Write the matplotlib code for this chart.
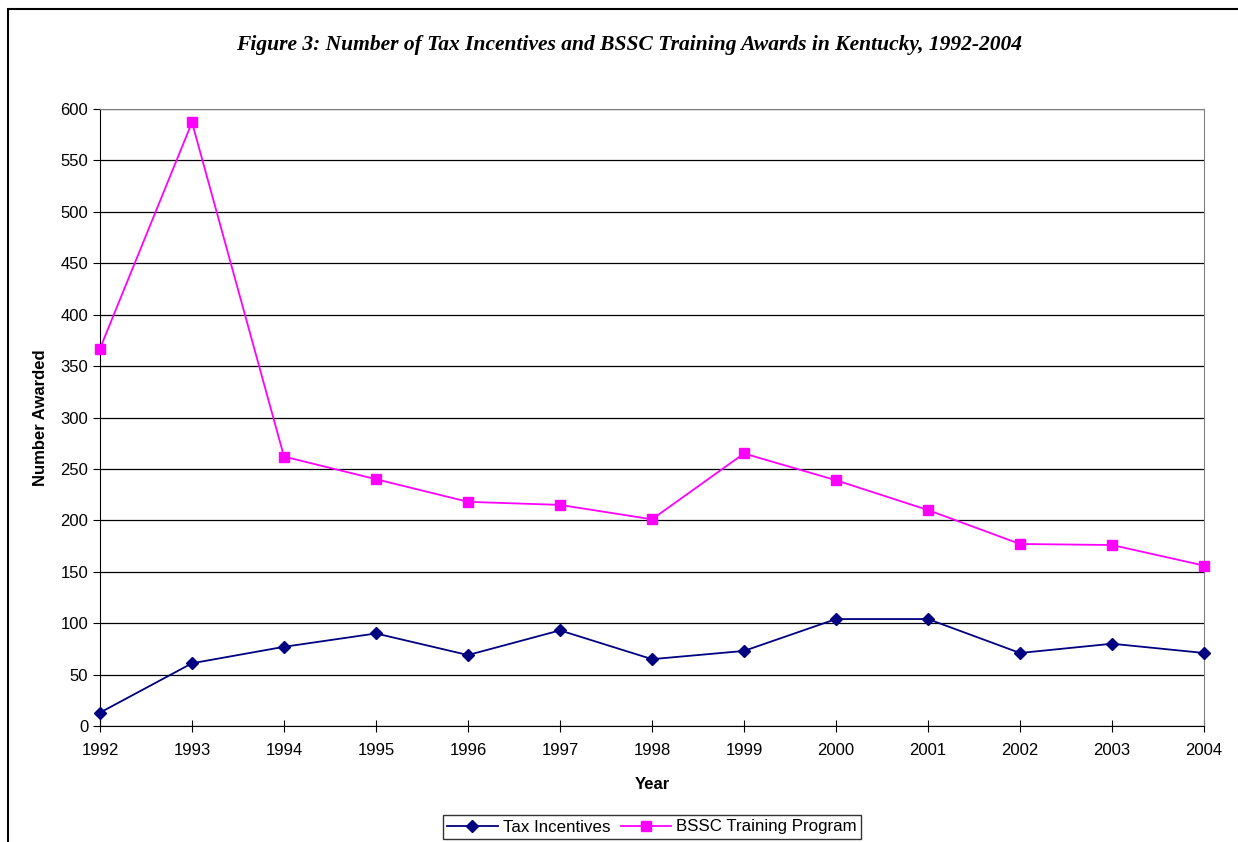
import matplotlib.pyplot as plt
from matplotlib.patches import Rectangle

years = [1992, 1993, 1994, 1995, 1996, 1997, 1998, 1999, 2000, 2001, 2002, 2003, 2004]
tax_incentives = [13, 61, 77, 90, 69, 93, 65, 73, 104, 104, 71, 80, 71]
bssc_training = [367, 587, 262, 240, 218, 215, 201, 265, 239, 210, 177, 176, 156]

plt.rcParams['font.family'] = ['Liberation Sans', 'DejaVu Sans']

fig = plt.figure(figsize=(12.38, 8.42), dpi=100)
ax = fig.add_axes([100/1238, 116/842, 1104/1238, 617/842])

# outer chart frame (cut off at right and bottom)
fig.patches.append(Rectangle((8/1238, -0.1), 1.2, 0.1 + (842-9)/842,
                             transform=fig.transFigure, fill=False,
                             edgecolor='black', linewidth=1.5))

ax.plot(years, tax_incentives, color='#000080', marker='D', markersize=6,
        linewidth=1.3, label='Tax Incentives', clip_on=False, zorder=3)
ax.plot(years, bssc_training, color='#FF00FF', marker='s', markersize=7,
        linewidth=1.3, label='BSSC Training Program', clip_on=False, zorder=3)

ax.set_xlim(1992, 2004)
ax.set_ylim(0, 600)
ax.set_xticks(years)
ax.set_yticks(range(0, 601, 50))
ax.yaxis.grid(True, color='black', linewidth=0.9)
ax.set_axisbelow(True)

for side in ['top', 'right']:
    ax.spines[side].set_color('#808080')
for side in ['left', 'bottom']:
    ax.spines[side].set_color('black')
ax.tick_params(axis='both', labelsize=12, direction='out', length=5, color='black')
ax.tick_params(axis='x', direction='inout', length=8, pad=8)

ax.set_xlabel('Year', fontsize=12, fontweight='bold', labelpad=14)
ax.set_ylabel('Number Awarded', fontsize=12, fontweight='bold', labelpad=9)

fig.text(629/1238, (842-45)/842,
         'Figure 3: Number of Tax Incentives and BSSC Training Awards in Kentucky, 1992-2004',
         ha='center', va='center', fontsize=15.5, fontweight='bold', style='italic',
         family='Liberation Serif')

leg = fig.legend(loc='center', bbox_to_anchor=(652/1238, (842-827)/842), ncol=2,
                 fontsize=12.2, frameon=True, fancybox=False, edgecolor='black',
                 handlelength=3, columnspacing=0.6, handletextpad=0.3,
                 borderpad=0.25, borderaxespad=0)
leg.get_frame().set_linewidth(1.0)

fig.savefig('out.png', dpi=100)
